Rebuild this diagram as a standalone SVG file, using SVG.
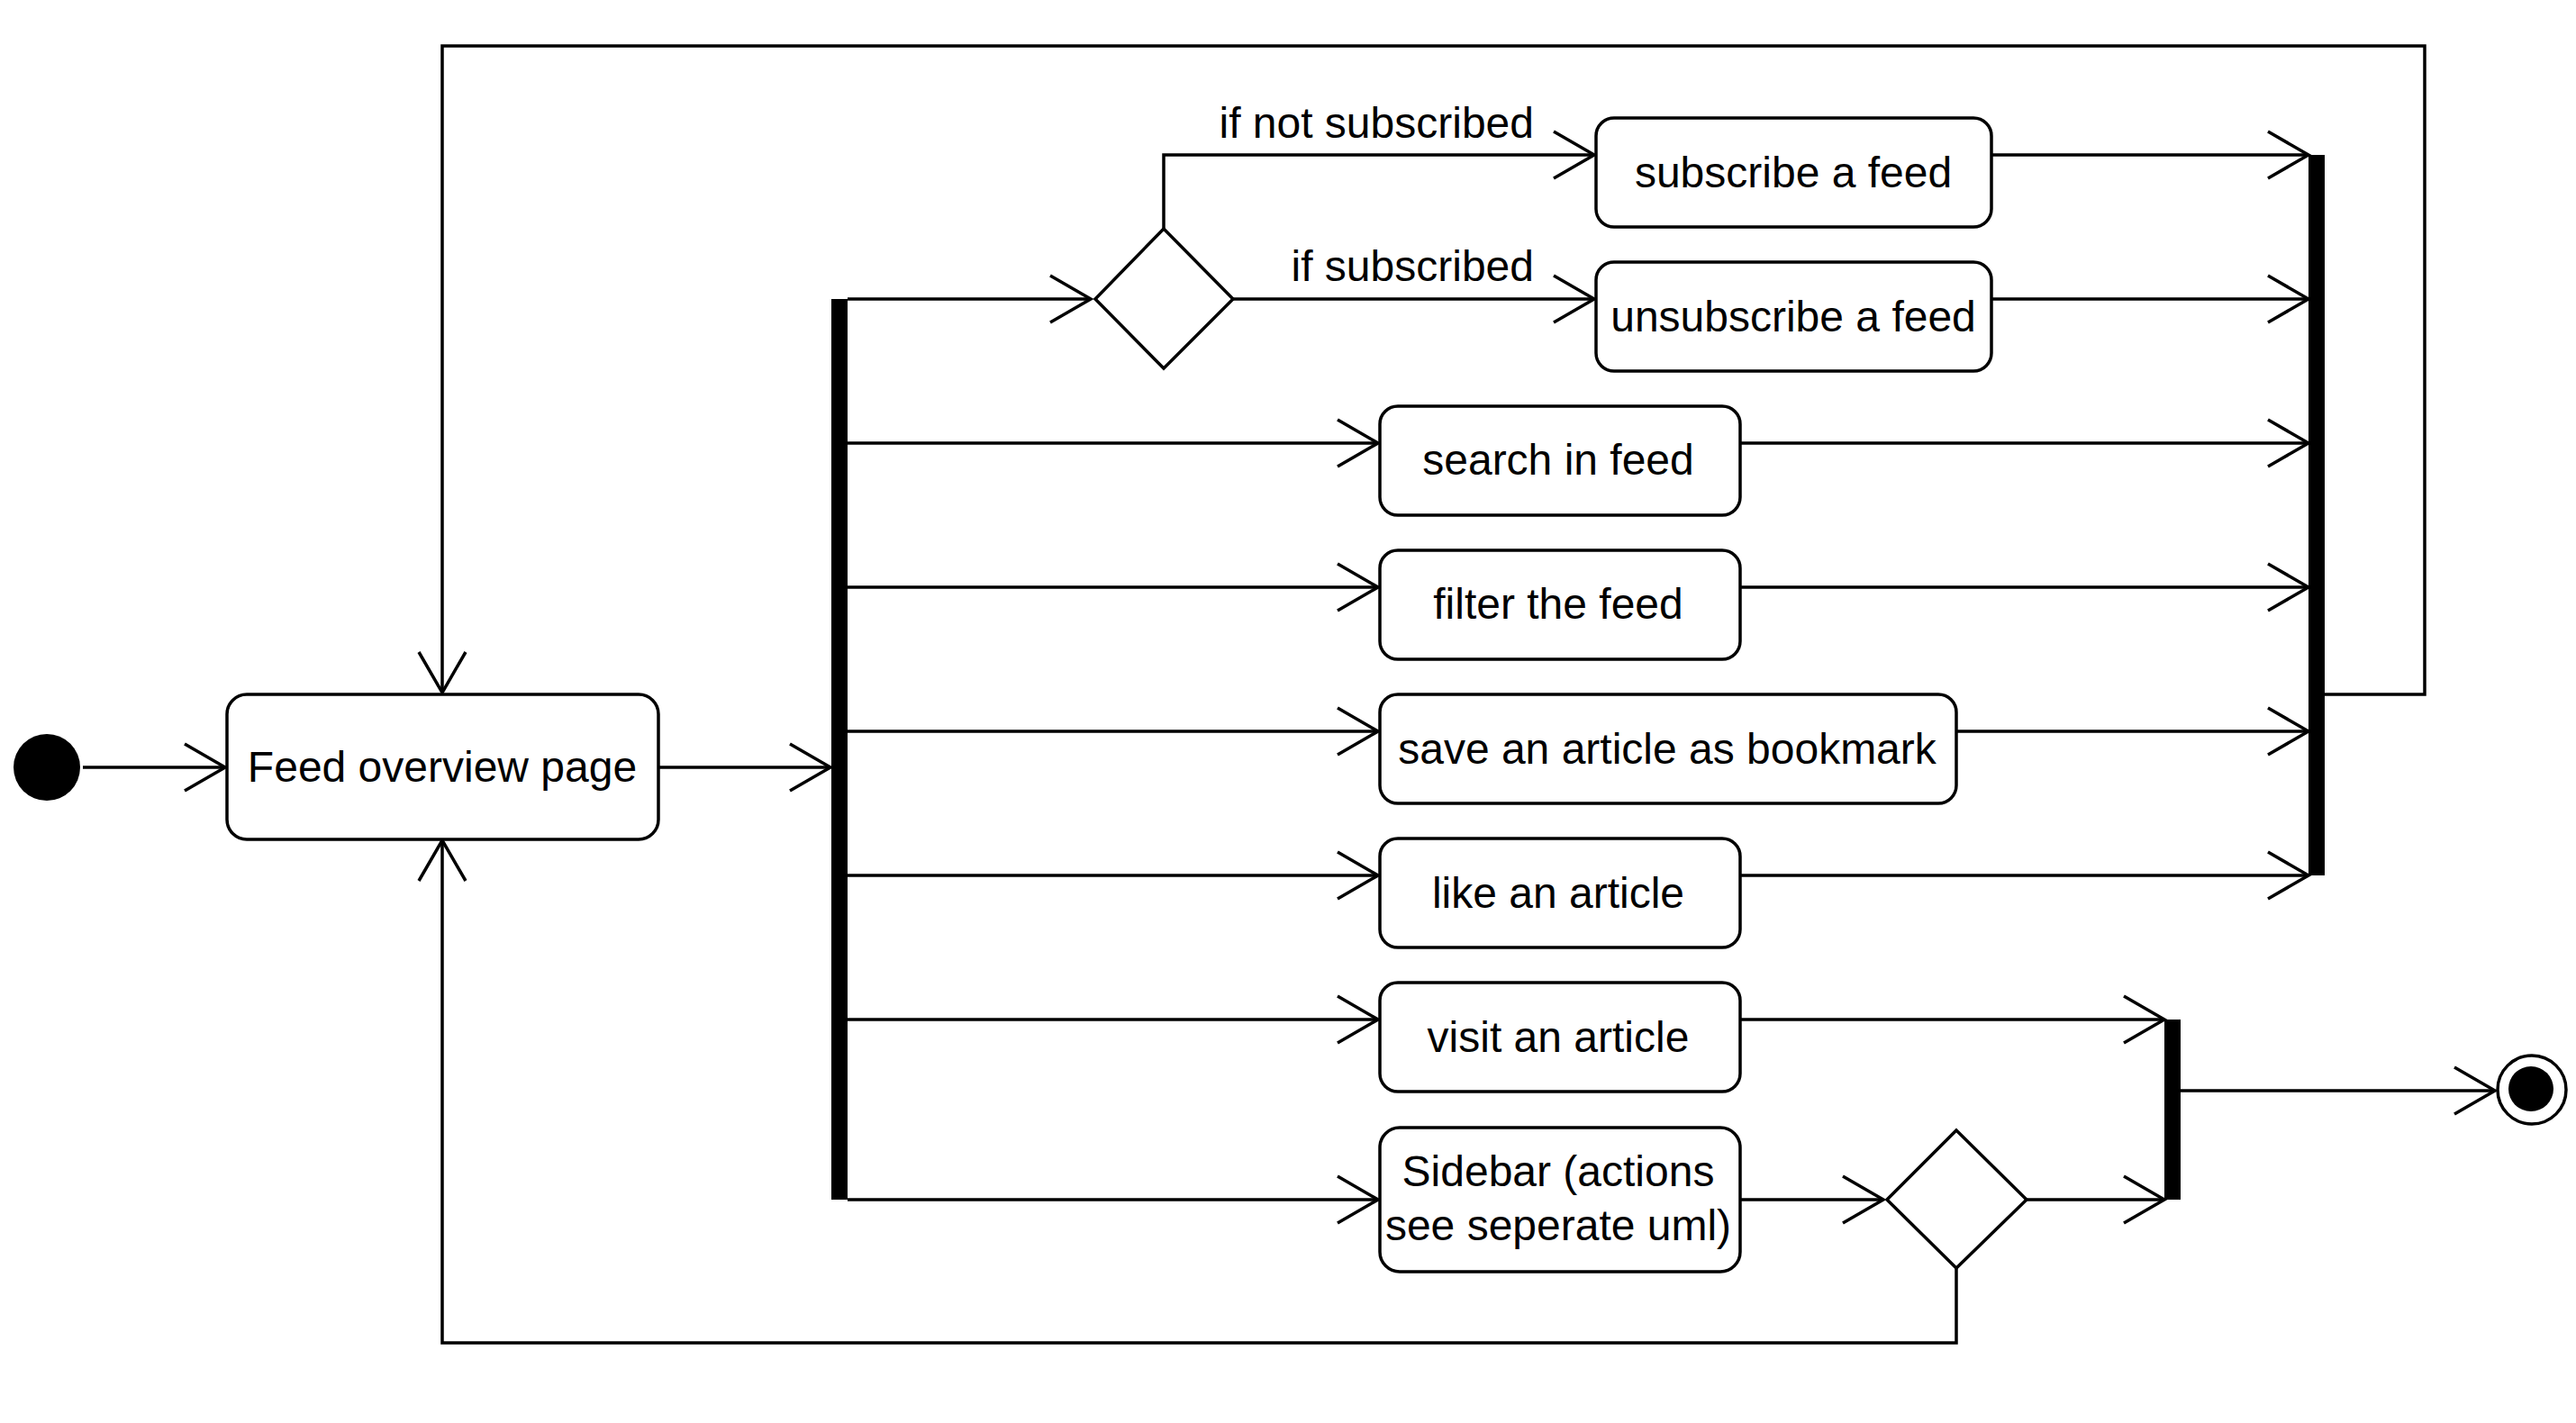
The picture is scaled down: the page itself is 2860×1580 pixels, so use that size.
<svg xmlns="http://www.w3.org/2000/svg" width="2860" height="1580" viewBox="0 0 2860 1580">
<style>
  .node { fill: #ffffff; stroke: #000000; stroke-width: 3.5; }
  .bar { fill: #000000; stroke: none; }
  .edge { fill: none; stroke: #000000; stroke-width: 3.5; }
  .lbl { font-family: "Liberation Sans", Arial, sans-serif; font-size: 48px; fill: #000000; }
  .c { text-anchor: middle; }
  .e { text-anchor: end; }
</style>
<defs>
  <marker id="open" viewBox="-2 -2 50 56" refX="45" refY="26" markerWidth="50" markerHeight="56" markerUnits="userSpaceOnUse" orient="auto" overflow="visible">
    <path d="M0,0 L45,26 L0,52" fill="none" stroke="#000000" stroke-width="3.5"/>
  </marker>
</defs>
<rect width="2860" height="1580" fill="#ffffff"/>

<g id="connectors">
  <path class="edge" d="M92,852 H250" marker-end="url(#open)"/>
  <path class="edge" d="M731,852 H922" marker-end="url(#open)"/>
  <path class="edge" d="M941,332 H1211" marker-end="url(#open)"/>
  <path class="edge" d="M1292,254 V172 H1770" marker-end="url(#open)"/>
  <path class="edge" d="M1369,332 H1770" marker-end="url(#open)"/>
  <path class="edge" d="M941,492 H1530" marker-end="url(#open)"/>
  <path class="edge" d="M941,652 H1530" marker-end="url(#open)"/>
  <path class="edge" d="M941,812 H1530" marker-end="url(#open)"/>
  <path class="edge" d="M941,972 H1530" marker-end="url(#open)"/>
  <path class="edge" d="M941,1132 H1530" marker-end="url(#open)"/>
  <path class="edge" d="M941,1332 H1530" marker-end="url(#open)"/>
  <path class="edge" d="M2211,172 H2563" marker-end="url(#open)"/>
  <path class="edge" d="M2211,332 H2563" marker-end="url(#open)"/>
  <path class="edge" d="M1932,492 H2563" marker-end="url(#open)"/>
  <path class="edge" d="M1932,652 H2563" marker-end="url(#open)"/>
  <path class="edge" d="M2172,812 H2563" marker-end="url(#open)"/>
  <path class="edge" d="M1932,972 H2563" marker-end="url(#open)"/>
  <path class="edge" d="M2581,771 H2692 V51 H491 V769" marker-end="url(#open)"/>
  <path class="edge" d="M1932,1132 H2403" marker-end="url(#open)"/>
  <path class="edge" d="M1932,1332 H2091" marker-end="url(#open)"/>
  <path class="edge" d="M2250,1332 H2403" marker-end="url(#open)"/>
  <path class="edge" d="M2172,1408 V1491 H491 V933" marker-end="url(#open)"/>
  <path class="edge" d="M2421,1211 H2770" marker-end="url(#open)"/>
  <text class="lbl e" x="1703" y="153">if not subscribed</text>
  <text class="lbl e" x="1703" y="312">if subscribed</text>
</g>

<g id="start">
  <circle cx="52" cy="852" r="37" fill="#000000"/>
</g>

<g id="feed-overview">
  <rect class="node" x="252" y="771" width="479" height="161" rx="22"/>
  <text class="lbl c" x="491" y="868">Feed overview page</text>
</g>

<g id="fork">
  <rect class="bar" x="923" y="332" width="18" height="1000"/>
</g>

<g id="decision-subscription">
  <path class="node" d="M1292,254 L1369,332 L1292,409 L1216,332 Z"/>
</g>

<g id="subscribe">
  <rect class="node" x="1772" y="131" width="439" height="121" rx="20"/>
  <text class="lbl c" x="1991" y="208">subscribe a feed</text>
</g>

<g id="unsubscribe">
  <rect class="node" x="1772" y="291" width="439" height="121" rx="20"/>
  <text class="lbl c" x="1991" y="368">unsubscribe a feed</text>
</g>

<g id="search">
  <rect class="node" x="1532" y="451" width="400" height="121" rx="20"/>
  <text class="lbl c" x="1730" y="527">search in feed</text>
</g>

<g id="filter">
  <rect class="node" x="1532" y="611" width="400" height="121" rx="20"/>
  <text class="lbl c" x="1730" y="687">filter the feed</text>
</g>

<g id="bookmark">
  <rect class="node" x="1532" y="771" width="640" height="121" rx="20"/>
  <text class="lbl c" x="1851" y="848">save an article as bookmark</text>
</g>

<g id="like">
  <rect class="node" x="1532" y="931" width="400" height="121" rx="20"/>
  <text class="lbl c" x="1730" y="1008">like an article</text>
</g>

<g id="visit">
  <rect class="node" x="1532" y="1091" width="400" height="121" rx="20"/>
  <text class="lbl c" x="1730" y="1168">visit an article</text>
</g>

<g id="sidebar">
  <rect class="node" x="1532" y="1252" width="400" height="160" rx="22"/>
  <text class="lbl c" x="1730" y="1317">Sidebar (actions</text>
  <text class="lbl c" x="1730" y="1377">see seperate uml)</text>
</g>

<g id="join-top">
  <rect class="bar" x="2563" y="172" width="18" height="800"/>
</g>

<g id="decision-sidebar">
  <path class="node" d="M2172,1255 L2250,1332 L2172,1408 L2095,1332 Z"/>
</g>

<g id="join-bottom">
  <rect class="bar" x="2403" y="1132" width="18" height="200"/>
</g>

<g id="end">
  <circle cx="2811" cy="1210" r="38" fill="#ffffff" stroke="#000000" stroke-width="3.5"/>
  <circle cx="2810" cy="1209" r="25" fill="#000000"/>
</g>
</svg>
